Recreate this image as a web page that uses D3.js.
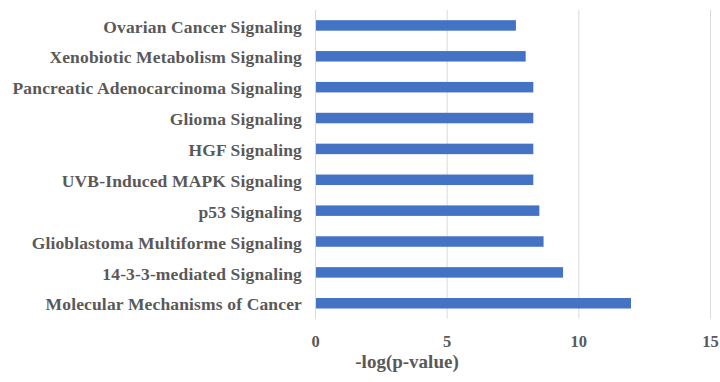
<!DOCTYPE html>
<html>
<head>
<meta charset="utf-8">
<script src="https://cdn.jsdelivr.net/npm/d3@7/dist/d3.min.js"></script>
<style>
  html, body { margin: 0; padding: 0; background: #fff; }
  svg { display: block; }
  text { font-family: "Liberation Serif", "Times New Roman", serif; font-weight: bold; fill: #595959; }
</style>
</head>
<body>
<svg id="chart" width="720" height="382"></svg>
<script>
// Canonical pathways, top to bottom, with their -log(p-value) scores
const pathways = [
  "Ovarian Cancer Signaling",
  "Xenobiotic Metabolism Signaling",
  "Pancreatic Adenocarcinoma Signaling",
  "Glioma Signaling",
  "HGF Signaling",
  "UVB-Induced MAPK Signaling",
  "p53 Signaling",
  "Glioblastoma Multiforme Signaling",
  "14-3-3-mediated Signaling",
  "Molecular Mechanisms of Cancer"
];
const scores = [7.63, 8.0, 8.29, 8.29, 8.29, 8.29, 8.52, 8.68, 9.42, 12.0];
const xTicks = [0, 5, 10, 15];
const xTitle = "-log(p-value)";

const svg = d3.select("#chart");
const plot = { left: 315, right: 710, top: 10, bottom: 318.7 };

const x = d3.scaleLinear().domain([0, 15]).range([plot.left, plot.right]);
const y = d3.scaleBand().domain(pathways).range([plot.top, plot.bottom]).paddingInner(0.66).paddingOuter(0.33);

// vertical gridlines
svg.append("g").selectAll("line").data(xTicks).join("line")
  .attr("x1", d => x(d) + 0.5).attr("x2", d => x(d) + 0.5)
  .attr("y1", plot.top).attr("y2", plot.bottom)
  .attr("stroke", "#d9d9d9").attr("stroke-width", 1);

// bars
svg.append("g").selectAll("rect").data(pathways).join("rect")
  .attr("x", x(0) + 1)
  .attr("y", d => y(d))
  .attr("width", (d, i) => x(scores[i]) - x(0) - 1)
  .attr("height", y.bandwidth())
  .attr("fill", "#4472c4");

// category labels
svg.append("g").selectAll("text").data(pathways).join("text")
  .attr("x", 302)
  .attr("y", d => y(d) + y.bandwidth() / 2 + 1)
  .attr("dy", "0.35em")
  .attr("text-anchor", "end")
  .style("font-size", "17.5px")
  .style("letter-spacing", "0.15px")
  .text(d => d);

// x tick labels
svg.append("g").selectAll("text").data(xTicks).join("text")
  .attr("x", d => x(d) + 0.5)
  .attr("y", 341)
  .attr("dy", "0.35em")
  .attr("text-anchor", "middle")
  .style("font-size", "16.5px")
  .text(d => d);

// axis title
svg.append("text")
  .attr("x", 407)
  .attr("y", 361)
  .attr("dy", "0.35em")
  .attr("text-anchor", "middle")
  .style("font-size", "19px")
  .text(xTitle);
</script>
</body>
</html>
